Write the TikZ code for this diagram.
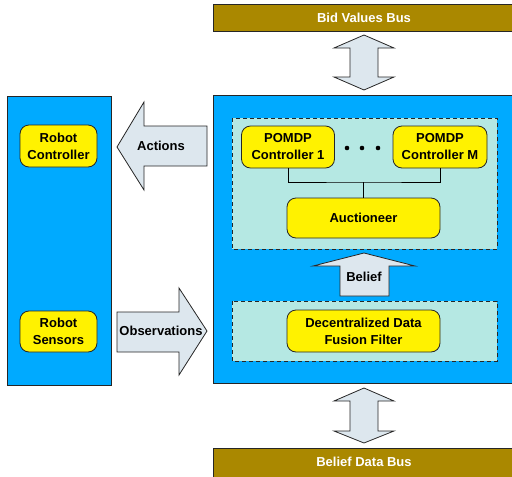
\documentclass[tikz,border=0pt]{standalone}
\usepackage{fontspec}
\setmainfont{Liberation Sans}
\definecolor{skyblue}{HTML}{00AAFF}
\definecolor{busgold}{HTML}{AA8800}
\definecolor{boxyellow}{HTML}{FFF200}
\definecolor{paleteal}{HTML}{B5E8E3}
\definecolor{arrowfill}{HTML}{DDE7EE}
\tikzset{
  every node/.style={font=\fontsize{13}{17}\selectfont\bfseries, align=center},
  panel/.style={draw=black!85, line width=1pt, fill=skyblue},
  bus/.style={draw=black!85, line width=1pt, fill=busgold},
  group/.style={draw=black!85, line width=0.9pt, dash pattern=on 4pt off 3pt, fill=paleteal},
  unit/.style={draw=black!85, line width=0.8pt, fill=boxyellow, rounded corners=9pt,
    inner sep=0pt},
  bigarrow/.style={draw=black!85, line width=0.8pt, fill=arrowfill, line join=miter},
  wire/.style={draw=black, line width=0.8pt},
}
\begin{document}
\begin{tikzpicture}[x=1pt,y=-1pt]
\useasboundingbox (0,0) rectangle (512,477);
\clip (0,0) rectangle (512,477);

% buses
\draw[bus] (213,4) rectangle (520,31);
\node[text=white] (bidbus) at (364,18) {Bid Values Bus};
\draw[bus] (213,448) rectangle (520,482);
\node[text=white] (beliefbus) at (364,462) {Belief Data Bus};

% robot panel and agent panel
\draw[panel] (7,96) rectangle (111,385);
\draw[panel] (213,95) rectangle (520,383);

% component groups
\draw[group] (232,118) rectangle (497,249);
\draw[group] (232,301) rectangle (497,361);

% units
\node[unit, minimum width=77pt, minimum height=42pt] (rc) at (58.5,146) {Robot\\Controller};
\node[unit, minimum width=77pt, minimum height=41pt] (rs) at (58.5,331.5) {Robot\\Sensors};
\node[unit, minimum width=93pt, minimum height=42pt] (pc1) at (288,147) {POMDP\\Controller 1};
\node[unit, minimum width=94pt, minimum height=42pt] (pcm) at (440,147) {POMDP\\Controller M};
\node[unit, minimum width=153pt, minimum height=40pt] (auc) at (363.5,218) {Auctioneer};
\node[unit, minimum width=153pt, minimum height=42pt] (ddf) at (363.5,331) {Decentralized Data\\Fusion Filter};

% ellipsis between controllers
\foreach \x in {347,362,378} \fill (\x,148) circle (2.3pt);

% controller to auctioneer wiring
\coordinate (jm) at (auc.north |- 0,182);
\draw[wire] (pc1.south) |- (jm) -| (pcm.south);
\draw[wire] (jm) -- (auc.north);

% Actions arrow (pointing left)
\draw[bigarrow] (117,147) -- (144,102) -- (144,126) -- (207,126) -- (207,166)
  -- (144,166) -- (144,190) -- cycle;
\node (act) at (161,146) {Actions};

% Observations arrow (pointing right)
\draw[bigarrow] (117,312) -- (179,312) -- (179,288) -- (207,331) -- (179,375)
  -- (179,352) -- (117,352) -- cycle;
\node (obs) at (161,331) {Observations};

% Belief arrow (pointing up)
\draw[bigarrow] (364,253) -- (415,266) -- (389,266) -- (389,296) -- (340,296)
  -- (340,266) -- (313,266) -- cycle;
\node (bel) at (364,277) {Belief};

% two-way links to the buses
\draw[bigarrow] (364,35) -- (394,48) -- (378,48) -- (378,77) -- (394,77)
  -- (364,90) -- (334,77) -- (350,77) -- (350,48) -- (334,48) -- cycle;
\draw[bigarrow] (364,388) -- (394,401) -- (378,401) -- (378,431) -- (394,431)
  -- (364,443) -- (334,431) -- (350,431) -- (350,401) -- (334,401) -- cycle;
\end{tikzpicture}
\end{document}
